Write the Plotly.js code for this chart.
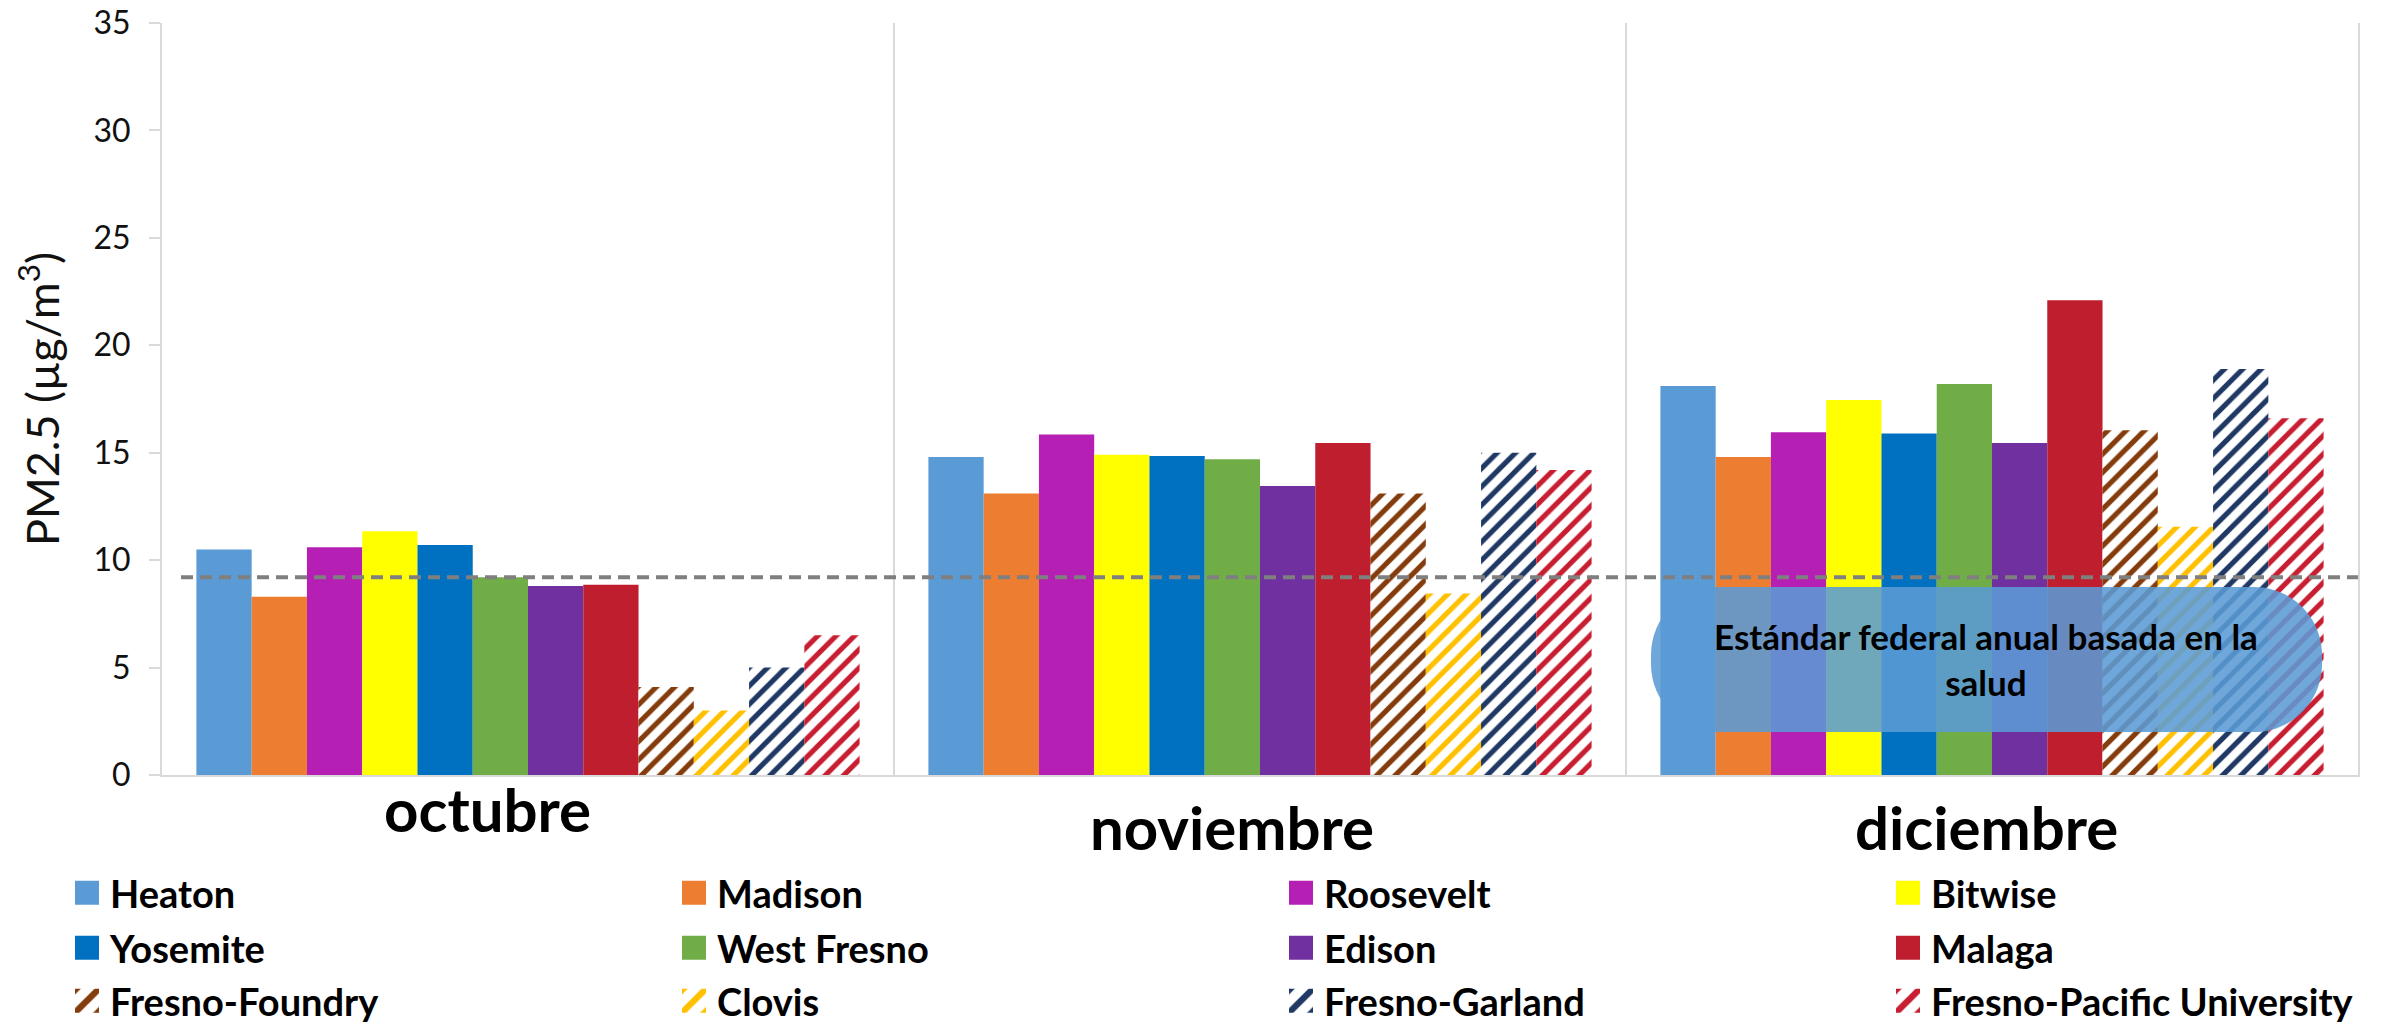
<!DOCTYPE html>
<html><head><meta charset="utf-8">
<script src="https://cdn.plot.ly/plotly-3.0.1.min.js"></script>
<style>
html,body{margin:0;padding:0;background:#fff;}
#chart{width:2394px;height:1025px;}
.legendpoints path{transform:translate(17px,0px) scale(2) !important;}
</style>
</head><body><div id="chart"></div>
<script>
// ---- data ----
const months = ['octubre', 'noviembre', 'diciembre'];
const stations = ['Heaton', 'Madison', 'Roosevelt', 'Bitwise', 'Yosemite', 'West Fresno', 'Edison', 'Malaga',
                  'Fresno-Foundry', 'Clovis', 'Fresno-Garland', 'Fresno-Pacific University'];
const heaton        = [10.5, 14.8, 18.1];
const madison       = [8.3, 13.1, 14.8];
const roosevelt     = [10.6, 15.85, 15.95];
const bitwise       = [11.35, 14.9, 17.45];
const yosemite      = [10.7, 14.85, 15.9];
const westFresno    = [9.2, 14.7, 18.2];
const edison        = [8.8, 13.45, 15.45];
const malaga        = [8.85, 15.45, 22.1];
const fresnoFoundry = [4.1, 13.1, 16.05];
const clovis        = [3.0, 8.45, 11.55];
const fresnoGarland = [5.0, 15.0, 18.9];
const fresnoPacific = [6.5, 14.2, 16.6];
const federalStandard = 9.2;
const yTickValues = [0, 5, 10, 15, 20, 25, 30, 35];
const yAxisTitle = 'PM2.5 (µg/m<sup>3</sup>)';
const standardLabel = 'Estándar federal anual basada en la<br>salud';

// ---- styles ----
const seriesValues = [heaton, madison, roosevelt, bitwise, yosemite, westFresno, edison, malaga,
                      fresnoFoundry, clovis, fresnoGarland, fresnoPacific];
const colors = ['#5B9BD5', '#ED7D31', '#B61FB4', '#FFFF00', '#0070C0', '#70AD47', '#7030A0', '#BE1E2D',
                '#843C0C', '#FFC000', '#1F3864', '#C81E32'];
const hatched = [false, false, false, false, false, false, false, false, true, true, true, true];
const FONT = 'Lato, "Open Sans", "Noto Sans", sans-serif';

// pixel geometry helpers (figure 2394x1025)
const M = {l: 162, r: 36, t: 23, b: 250, autoexpand: false};
const PW = 2394 - M.l - M.r, PH = 1025 - M.t - M.b;
const px2x = p => (p - M.l) / PW;
const px2y = p => (1025 - M.b - p) / PH;

// legend grid (4 columns x 3 rows), pixel positions
const legendColLeft = [70, 677, 1284, 1891];
const legendRowMid = [893, 948, 1001];

const legendId = i => (i === 0 ? 'legend' : 'legend' + (i + 1));

const traces = stations.map((name, i) => {
  const marker = {color: colors[i], line: {width: 0}};
  if (hatched[i]) {
    marker.pattern = {shape: '/', fgcolor: colors[i], bgcolor: '#ffffff', size: 13, solidity: 0.4, fillmode: 'replace'};
  }
  return {type: 'bar', name: name, x: months, y: seriesValues[i], marker: marker,
          legend: legendId(i), hoverinfo: 'x+y+name'};
});

// rounded box path (pixel coords -> paper)
function roundedBox(x1, y1, x2, y2, r) {
  const k = 0.5523 * r;
  const P = (x, y) => px2x(x).toFixed(5) + ',' + px2y(y).toFixed(5);
  return 'M' + P(x1 + r, y1) + ' L' + P(x2 - r, y1) +
    ' C' + P(x2 - r + k, y1) + ' ' + P(x2, y1 + r - k) + ' ' + P(x2, y1 + r) +
    ' L' + P(x2, y2 - r) +
    ' C' + P(x2, y2 - r + k) + ' ' + P(x2 - r + k, y2) + ' ' + P(x2 - r, y2) +
    ' L' + P(x1 + r, y2) +
    ' C' + P(x1 + r - k, y2) + ' ' + P(x1, y2 - r + k) + ' ' + P(x1, y2 - r) +
    ' L' + P(x1, y1 + r) +
    ' C' + P(x1, y1 + r - k) + ' ' + P(x1 + r - k, y1) + ' ' + P(x1 + r, y1) + ' Z';
}

const monthShift = {octubre: [-41, 0], noviembre: [-28, -18], diciembre: [-6, -18]};
const monthAnnotations = months.map(m => ({
  xref: 'x', yref: 'paper', x: m, y: px2y(809), xshift: monthShift[m][0], yshift: monthShift[m][1],
  text: m, showarrow: false, xanchor: 'center', yanchor: 'middle',
  font: {family: FONT, size: 60, color: '#000000', weight: 'bold'}
}));

const layout = {
  width: 2394, height: 1025,
  margin: M,
  paper_bgcolor: '#ffffff', plot_bgcolor: '#ffffff',
  font: {family: FONT, color: '#000000'},
  barmode: 'group', bargap: 0.094, bargroupgap: 0,
  showlegend: true,
  xaxis: {
    type: 'category', showticklabels: false, ticks: '', tickson: 'boundaries',
    showgrid: true, gridcolor: '#d9d9d9', gridwidth: 2,
    showline: true, linecolor: '#d9d9d9', linewidth: 2, zeroline: false, fixedrange: true
  },
  yaxis: {
    range: [0, 35], tickvals: yTickValues, ticks: 'outside', ticklen: 11, tickwidth: 2, tickcolor: '#d9d9d9',
    ticklabelstandoff: 12,
    showgrid: false, zeroline: false, showline: true, linecolor: '#d9d9d9', linewidth: 2, mirror: true,
    tickfont: {family: FONT, size: 32, color: '#111111'},
    title: {text: yAxisTitle, font: {family: FONT, size: 45, color: '#111111'}, standoff: 20},
    fixedrange: true
  },
  shapes: [
    {type: 'line', xref: 'paper', yref: 'y', x0: px2x(181), x1: 1, y0: federalStandard, y1: federalStandard,
     line: {color: '#7f7f7f', width: 4, dash: '12px,7px'}, layer: 'above'},
    {type: 'path', xref: 'paper', yref: 'paper', path: roundedBox(1651, 587, 2322, 732, 68),
     fillcolor: 'rgba(91,155,213,0.88)', line: {width: 0}, layer: 'above'}
  ],
  annotations: monthAnnotations.concat([{
    xref: 'paper', yref: 'paper', x: px2x(1986), y: px2y(659), xanchor: 'center', yanchor: 'middle',
    text: standardLabel, showarrow: false, align: 'center',
    font: {family: FONT, size: 35, color: '#000000', weight: 'bold'}
  }])
};

stations.forEach((name, i) => {
  layout[legendId(i)] = {
    orientation: 'v', xanchor: 'left', yanchor: 'middle',
    x: px2x(legendColLeft[i % 4]), y: px2y(legendRowMid[Math.floor(i / 4)]),
    bgcolor: 'rgba(0,0,0,0)', borderwidth: 0,
    font: {family: FONT, size: 38, color: '#000000', weight: 'bold'}
  };
});

Plotly.newPlot('chart', traces, layout, {displayModeBar: false, staticPlot: true});
</script>
</body></html>
